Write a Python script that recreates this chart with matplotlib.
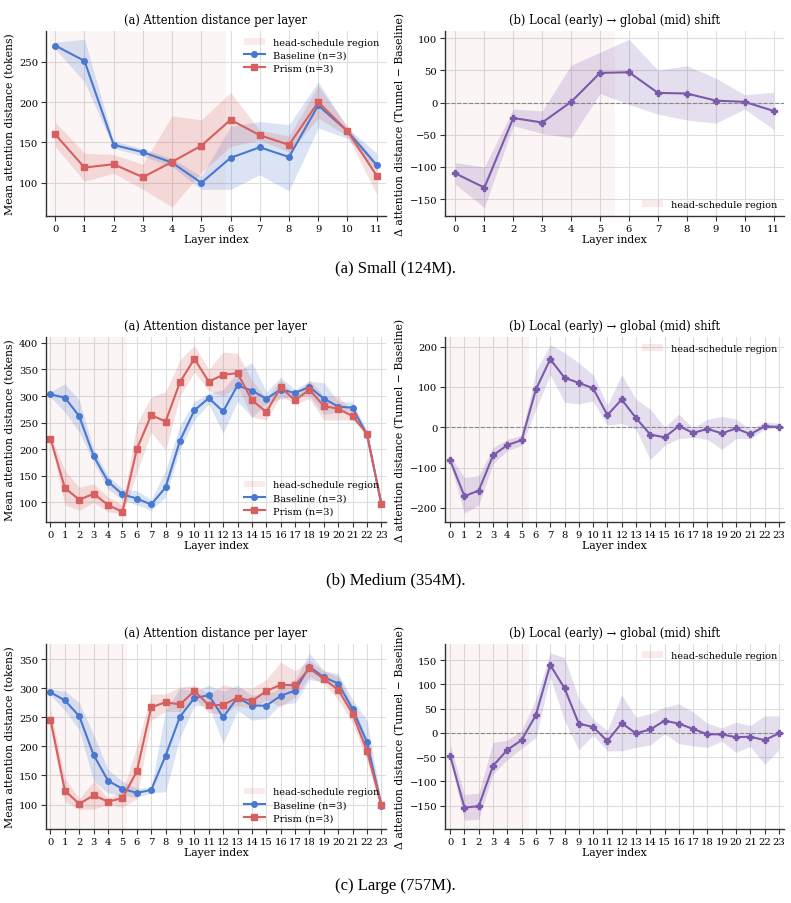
import numpy as np
import matplotlib
matplotlib.use("Agg")
import matplotlib.pyplot as plt
from matplotlib.patches import Patch

# ---- Small (124M), 12 layers ----
small_base = [270, 251, 147, 138, 125, 100, 131, 144, 132, 196, 164, 122]
small_base_lo = [266, 225, 143, 133, 120, 92, 92, 110, 90, 168, 155, 115]
small_base_hi = [274, 278, 152, 142, 130, 108, 170, 176, 172, 225, 168, 137]
small_prism = [160, 119, 123, 107, 126, 146, 178, 159, 147, 200, 164, 109]
small_prism_lo = [145, 102, 112, 92, 70, 113, 145, 153, 138, 180, 158, 86]
small_prism_hi = [175, 137, 135, 123, 183, 178, 212, 165, 158, 220, 170, 124]
small_delta = [-110, -132, -24, -31, 1, 46, 47, 15, 14, 3, 1, -13]
small_delta_lo = [-127, -163, -36, -48, -55, 14, -3, -18, -27, -32, -10, -42]
small_delta_hi = [-93, -100, -10, -13, 58, 78, 98, 50, 57, 38, 12, 16]

# ---- Medium (354M), 24 layers ----
med_base = [303, 297, 262, 187, 139, 115, 107, 96, 128, 216, 273, 296,
            271, 320, 310, 295, 312, 306, 317, 295, 280, 278, 227, 96]
med_base_lo = [298, 270, 232, 175, 125, 105, 95, 85, 110, 200, 255, 285,
               230, 290, 260, 285, 295, 298, 300, 265, 270, 270, 220, 94]
med_base_hi = [308, 323, 292, 200, 150, 125, 122, 105, 160, 245, 290, 305,
               312, 345, 363, 308, 335, 312, 328, 325, 290, 288, 235, 100]
med_prism = [220, 127, 105, 116, 95, 82, 200, 264, 252, 326, 370, 327,
             340, 343, 292, 270, 316, 292, 312, 281, 276, 262, 229, 97]
med_prism_lo = [215, 95, 85, 100, 82, 78, 155, 232, 198, 300, 345, 310,
                300, 318, 260, 255, 300, 285, 295, 255, 255, 255, 225, 94]
med_prism_hi = [225, 160, 128, 135, 110, 95, 248, 298, 308, 368, 395, 350,
                383, 380, 330, 295, 330, 300, 330, 300, 300, 270, 235, 100]
med_delta = [-82, -171, -157, -70, -44, -32, 94, 169, 123, 110, 97, 30,
             69, 23, -18, -25, 3, -14, -4, -15, -3, -17, 2, 1]
med_delta_lo = [-90, -213, -193, -90, -58, -45, 45, 130, 62, 58, 65, 5,
                10, -5, -80, -45, -28, -25, -30, -55, -28, -28, -5, -2]
med_delta_hi = [-70, -125, -120, -50, -30, -20, 140, 205, 185, 160, 130, 55,
                130, 70, 45, 0, 33, -2, 20, 27, 20, -5, 13, 10]

# ---- Large (757M), 24 layers ----
large_base = [293, 279, 252, 185, 141, 127, 120, 125, 184, 251, 283, 288,
              250, 284, 270, 270, 287, 296, 337, 319, 308, 264, 207, 98]
large_base_lo = [288, 262, 228, 140, 120, 115, 112, 120, 122, 215, 270, 270,
                 205, 262, 245, 248, 272, 275, 315, 310, 300, 250, 185, 93]
large_base_hi = [298, 295, 275, 220, 160, 140, 128, 130, 262, 300, 295, 305,
                 295, 305, 288, 290, 300, 315, 360, 330, 325, 280, 245, 105]
large_prism = [246, 124, 101, 116, 105, 111, 157, 267, 276, 272, 295, 271,
               271, 284, 278, 295, 306, 305, 334, 316, 297, 256, 192, 99]
large_prism_lo = [230, 105, 92, 92, 100, 95, 110, 245, 260, 260, 282, 258,
                  255, 270, 265, 280, 268, 285, 320, 308, 280, 240, 175, 85]
large_prism_hi = [265, 145, 110, 140, 110, 123, 200, 290, 290, 302, 305, 290,
                  306, 300, 300, 315, 345, 330, 348, 330, 320, 270, 212, 108]
large_delta = [-47, -154, -151, -68, -35, -15, 37, 140, 92, 19, 12, -17,
               20, -1, 7, 25, 19, 8, -3, -3, -9, -8, -15, -1]
large_delta_lo = [-55, -180, -178, -85, -55, -32, -10, 115, 25, -35, -5, -37,
                  -37, -30, -25, -2, -22, -27, -30, -17, -40, -28, -65, -35]
large_delta_hi = [-25, -127, -124, -20, -15, 5, 70, 165, 155, 70, 28, 5,
                  78, 32, 40, 53, 60, 43, 20, 10, 22, 15, 35, 35]

captions = ["(a) Small (124M).", "(b) Medium (354M).", "(c) Large (757M)."]

BLUE = "#4878d0"
RED = "#d65f5f"
PURPLE = "#7b5aab"
REGION = "#d65f5f"

plt.rcParams["font.family"] = "DejaVu Serif"
plt.rcParams["font.size"] = 7

fig = plt.figure(figsize=(7.91, 9.04), dpi=100)

rows = [
    dict(base=small_base, blo=small_base_lo, bhi=small_base_hi,
         prism=small_prism, plo=small_prism_lo, phi=small_prism_hi,
         d=small_delta, dlo=small_delta_lo, dhi=small_delta_hi,
         ylim_a=(59, 288), ylim_b=(-176, 111), yt_a=[100, 150, 200, 250],
         yt_b=[-150, -100, -50, 0, 50, 100], reg_a=(-0.17, 5.83),
         leg_a="upper right", leg_b="lower right"),
    dict(base=med_base, blo=med_base_lo, bhi=med_base_hi,
         prism=med_prism, plo=med_prism_lo, phi=med_prism_hi,
         d=med_delta, dlo=med_delta_lo, dhi=med_delta_hi,
         ylim_a=(63, 411), ylim_b=(-235, 224), yt_a=[100, 150, 200, 250, 300, 350, 400],
         yt_b=[-200, -100, 0, 100, 200], reg_a=(-0.1, 5.3),
         leg_a="lower right", leg_b="upper right"),
    dict(base=large_base, blo=large_base_lo, bhi=large_base_hi,
         prism=large_prism, plo=large_prism_lo, phi=large_prism_hi,
         d=large_delta, dlo=large_delta_lo, dhi=large_delta_hi,
         ylim_a=(58, 376), ylim_b=(-198, 183), yt_a=[100, 150, 200, 250, 300, 350],
         yt_b=[-150, -100, -50, 0, 50, 100, 150], reg_a=(-0.1, 5.3),
         leg_a="lower right", leg_b="upper right"),
]

bottoms = [0.760, 0.4215, 0.0819]
cap_y = [1 - 268 / 904, 1 - 580 / 904, 1 - 886 / 904]


def style(ax):
    ax.grid(True, color="#dddddd", linewidth=0.8)
    ax.set_axisbelow(True)
    for s in ["top", "right"]:
        ax.spines[s].set_visible(False)
    for s in ["left", "bottom"]:
        ax.spines[s].set_color("#333333")
        ax.spines[s].set_linewidth(1.0)
    ax.tick_params(length=3.5, width=0.8, color="#333333", pad=2, labelsize=7.2)


def region_handle():
    return Patch(facecolor=REGION, alpha=0.12, edgecolor="none")


for r, row in enumerate(rows):
    n = len(row["base"])
    x = np.arange(n)
    h = 0.2046

    # left panel
    ax = fig.add_axes([0.058, bottoms[r], 0.430, h])
    style(ax)
    ax.axvspan(*row["reg_a"], color=REGION, alpha=0.06, lw=0)
    ax.fill_between(x, row["blo"], row["bhi"], color=BLUE, alpha=0.2, lw=0)
    ax.fill_between(x, row["plo"], row["phi"], color=RED, alpha=0.2, lw=0)
    ax.plot(x, row["base"], color=BLUE, marker="o", ms=4, lw=1.5)
    ax.plot(x, row["prism"], color=RED, marker="s", ms=4, lw=1.5)
    ax.set_xlim(-0.32, n - 1 + 0.32)
    ax.set_ylim(*row["ylim_a"])
    ax.set_xticks(x)
    ax.set_yticks(row["yt_a"])
    ax.set_xlabel("Layer index", fontsize=7.8, labelpad=1)
    ax.set_ylabel("Mean attention distance (tokens)", fontsize=7.8, labelpad=3)
    ax.set_title("(a) Attention distance per layer", fontsize=8.3, pad=6)
    handles = [region_handle(),
               plt.Line2D([], [], color=BLUE, marker="o", ms=4, lw=1.5),
               plt.Line2D([], [], color=RED, marker="s", ms=4, lw=1.5)]
    ax.legend(handles, ["head-schedule region", "Baseline (n=3)", "Prism (n=3)"],
              loc=row["leg_a"], frameon=False, fontsize=7,
              handlelength=2.2, labelspacing=0.4, borderaxespad=0.3)

    # right panel
    ax = fig.add_axes([0.5626, bottoms[r], 0.4286, h])
    style(ax)
    ax.axvspan(-0.5, 5.5, color=REGION, alpha=0.06, lw=0)
    ax.axhline(0, color="#888888", lw=0.8, ls="--")
    ax.fill_between(x, row["dlo"], row["dhi"], color=PURPLE, alpha=0.2, lw=0)
    ax.plot(x, row["d"], color=PURPLE, marker="P", ms=5, lw=1.5)
    ax.set_xlim(-0.36, n - 1 + 0.36)
    ax.set_ylim(*row["ylim_b"])
    ax.set_xticks(x)
    ax.set_yticks(row["yt_b"])
    ax.set_xlabel("Layer index", fontsize=7.8, labelpad=1)
    ax.set_ylabel("Δ attention distance (Tunnel − Baseline)", fontsize=7.8, labelpad=3)
    ax.set_title("(b) Local (early) → global (mid) shift", fontsize=8.3, pad=6)
    ax.legend([region_handle()], ["head-schedule region"], loc=row["leg_b"],
              frameon=False, fontsize=7, handlelength=2.2, borderaxespad=0.3)

    fig.text(0.5, cap_y[r], captions[r], ha="center", va="center",
             fontsize=12, family="Liberation Serif")

fig.savefig("out.png", dpi=100)
